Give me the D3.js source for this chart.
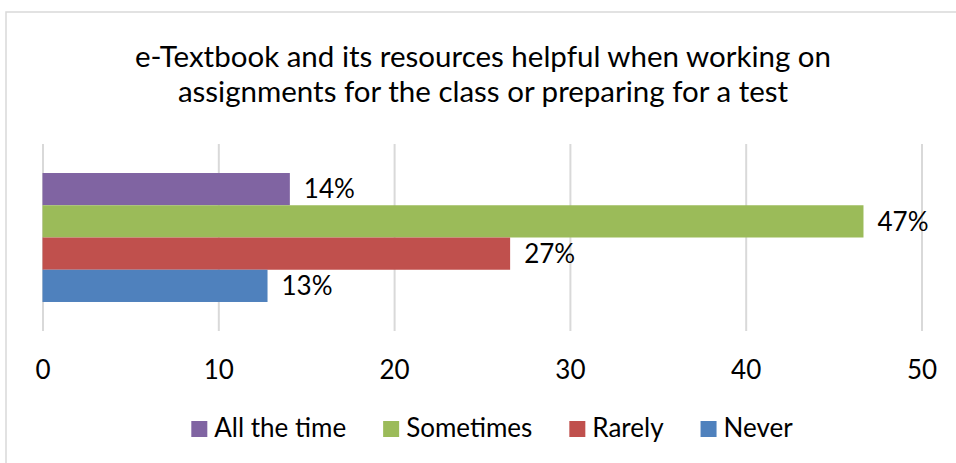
<!DOCTYPE html>
<html>
<head>
<meta charset="utf-8">
<script src="https://cdn.jsdelivr.net/npm/d3@7"></script>
<style>
  html, body { margin: 0; padding: 0; background: #fff; }
  svg { display: block; font-family: Lato, "Open Sans", sans-serif; }
</style>
</head>
<body>
<div id="chart"></div>
<script>
// Survey answers (one bar per answer, top to bottom)
const answers = ["All the time", "Sometimes", "Rarely", "Never"];
const percents = [14.07, 46.7, 26.6, 12.8];
const colors = ["#8064A2", "#9BBB59", "#C0504D", "#4F81BD"];
const xTicks = [0, 10, 20, 30, 40, 50];
const titleLines = [
    "e-Textbook and its resources helpful when working on",
    "assignments for the class or preparing for a test"
];

const width = 956, height = 463;
const plot = { left: 42.5, right: 921.5, top: 144, bottom: 331 };

const svg = d3.select("#chart")
    .append("svg")
    .attr("width", width)
    .attr("height", height);

// Chart border (runs off the right and bottom edges like the source)
svg.append("rect")
    .attr("x", 6)
    .attr("y", 12)
    .attr("width", width + 10)
    .attr("height", height + 10)
    .attr("fill", "#fff")
    .attr("stroke", "#d9d9d9")
    .attr("stroke-width", 1.5);

// Title
svg.append("text")
    .attr("text-anchor", "middle")
    .attr("font-size", 29.5)
    .attr("fill", "#000")
    .selectAll("tspan")
    .data(titleLines)
    .enter()
    .append("tspan")
    .attr("x", 483)
    .attr("y", (d, i) => 67 + i * 35)
    .text(d => d);

const x = d3.scaleLinear()
    .domain([0, 50])
    .range([plot.left, plot.right]);

const y = d3.scaleBand()
    .domain(answers)
    .range([plot.top, plot.bottom])
    .paddingInner(0)
    .paddingOuter(0.9);

// Grid lines + tick labels
const axis = svg.append("g")
    .attr("transform", `translate(0,${plot.bottom})`)
    .call(d3.axisBottom(x).tickValues(xTicks).tickSize(-(plot.bottom - plot.top)).tickFormat(d3.format("d")));

axis.select(".domain").remove();
axis.selectAll(".tick line")
    .attr("stroke", "#d9d9d9")
    .attr("stroke-width", 2);
axis.selectAll(".tick text")
    .attr("y", 48)
    .attr("dy", null)
    .attr("font-size", 26)
    .attr("font-family", "Lato, 'Open Sans', sans-serif")
    .attr("fill", "#000");

// Bars
const rows = answers.map((a, i) => ({ answer: a, value: percents[i], color: colors[i] }));

svg.selectAll(".bar")
    .data(rows)
    .enter()
    .append("rect")
    .attr("class", "bar")
    .attr("x", x(0))
    .attr("y", d => y(d.answer))
    .attr("width", d => x(d.value) - x(0))
    .attr("height", y.bandwidth())
    .attr("fill", d => d.color);

// Data labels
svg.selectAll(".label")
    .data(rows)
    .enter()
    .append("text")
    .attr("class", "label")
    .attr("x", d => x(d.value) + 14)
    .attr("y", d => y(d.answer) + y.bandwidth() / 2)
    .attr("dy", "0.36em")
    .attr("font-size", 26)
    .attr("fill", "#000")
    .text(d => Math.round(d.value) + "%");

// Legend, centred under the plot
const legend = svg.append("g");
const items = legend.selectAll("g")
    .data(rows)
    .enter()
    .append("g");

items.append("rect")
    .attr("y", 421)
    .attr("width", 16)
    .attr("height", 16)
    .attr("fill", d => d.color);

items.append("text")
    .attr("x", 23)
    .attr("y", 437)
    .attr("font-size", 26)
    .attr("fill", "#000")
    .text(d => d.answer);

const gap = 37;
let offset = 0;
items.each(function () {
    const g = d3.select(this);
    g.attr("transform", `translate(${offset},0)`);
    offset += 23 + g.select("text").node().getComputedTextLength() + gap;
});
const legendWidth = offset - gap;
legend.attr("transform", `translate(${492 - legendWidth / 2},0)`);
</script>
</body>
</html>
